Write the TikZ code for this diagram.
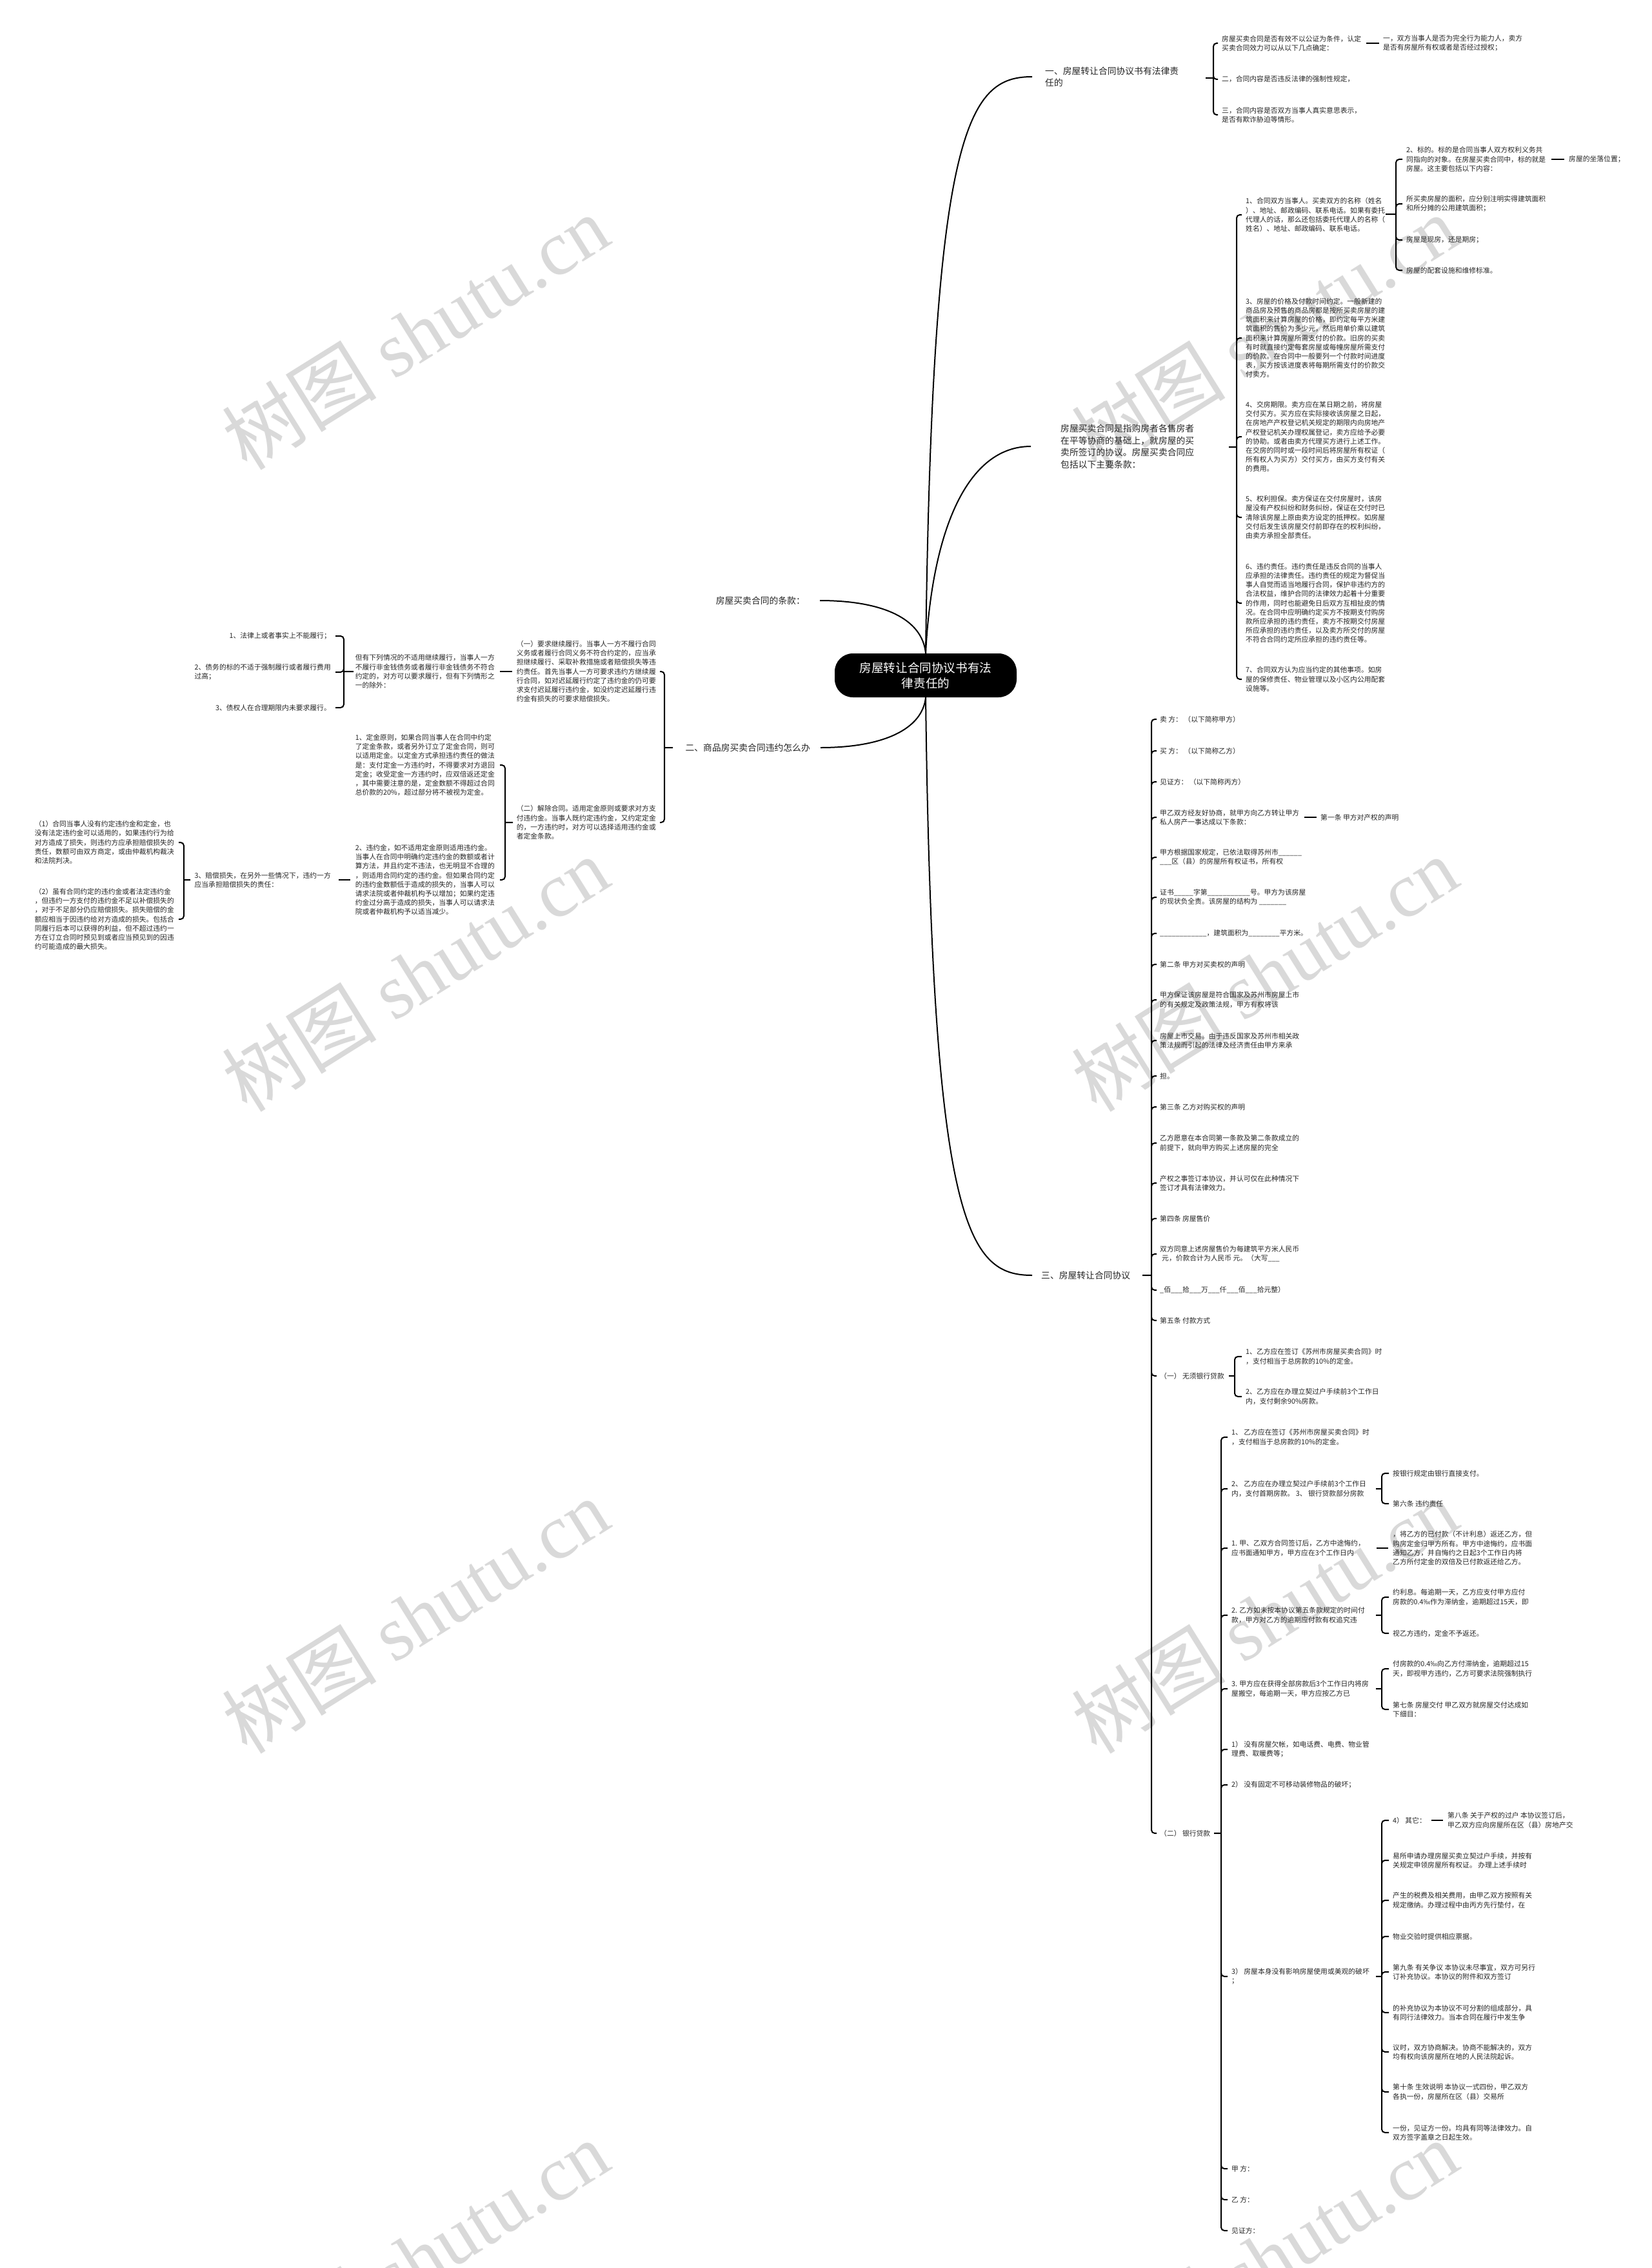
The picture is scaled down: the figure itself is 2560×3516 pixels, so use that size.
\documentclass[tikz,border=0pt]{standalone}
\usepackage{fontspec}
\setmainfont{Noto Sans CJK SC}
\newfontfamily\wmlatin{Liberation Serif}
\tikzset{
        root/.style={rectangle, rounded corners=28pt, fill=black, text=white,
          minimum width=282pt, minimum height=68pt, inner sep=0pt, align=center,
          font=\fontsize{18.6}{24}\selectfont},
        topic/.style={inner sep=0pt, align=left, text=black!85,
          font=\fontsize{13.8}{18.5}\selectfont},
        leaf/.style={inner sep=0pt, align=left, text=black!85,
          font=\fontsize{10.8}{14.2}\selectfont},
        limb/.style={line width=2pt}, % curves out of the root
        brk/.style={line width=2pt, rounded corners=5pt}, % bracket lines
        wmark/.style={text=black!15, rotate=32, inner sep=0pt,
          font=\fontsize{120}{120}\selectfont}
        }

\begin{document}
\begin{tikzpicture}[x=1pt, y=-1pt]
\useasboundingbox (0,0) rectangle (2560,3516);
\fill[white] (0,0) rectangle (2560,3516);

% watermarks
\node[wmark] (wm1) at (644,515) {树图 {\wmlatin shutu.cn}};
\node[wmark] (wm2) at (1960,515) {树图 {\wmlatin shutu.cn}};
\node[wmark] (wm3) at (644,1510) {树图 {\wmlatin shutu.cn}};
\node[wmark] (wm4) at (1960,1510) {树图 {\wmlatin shutu.cn}};
\node[wmark] (wm5) at (644,2505) {树图 {\wmlatin shutu.cn}};
\node[wmark] (wm6) at (1960,2505) {树图 {\wmlatin shutu.cn}};
\node[wmark] (wm7) at (644,3500) {树图 {\wmlatin shutu.cn}};
\node[wmark] (wm8) at (1960,3500) {树图 {\wmlatin shutu.cn}};

% root and main topics
\node[root] (ctr) at (1435,1047) {房屋转让合同协议书有法\\律责任的};
\node[topic, anchor=west] (b1) at (1620,119) {一、房屋转让合同协议书有法律责\\任的};
\node[topic, anchor=west] (b2) at (1644,692) {房屋买卖合同是指购房者各售房者\\在平等协商的基础上，就房屋的买\\卖所签订的协议。房屋买卖合同应\\包括以下主要条款：};
\node[topic, anchor=east] (b3) at (1248,931) {房屋买卖合同的条款：};
\node[topic, anchor=east] (b4) at (1256,1159) {二、商品房买卖合同违约怎么办};
\node[topic, anchor=west] (b5) at (1614,1977) {三、房屋转让合同协议};

\draw[limb] (ctr.north) .. controls (1445,200) and (1500,119) .. ([xshift=-20pt]b1.west);
\draw[limb] (ctr.north) .. controls (1445,820) and (1500,692) .. ([xshift=-46pt]b2.west);
\draw[limb] (ctr.north) .. controls (1430,960) and (1370,931) .. ([xshift=23pt]b3.east);
\draw[limb] (ctr.south) .. controls (1430,1130) and (1370,1159) .. ([xshift=16pt]b4.east);
\draw[limb] (ctr.south) .. controls (1445,1900) and (1500,1977) .. ([xshift=-14pt]b5.west);

% branch one
\node[leaf, anchor=west] (c1) at (1894,67) {房屋买卖合同是否有效不以公证为条件，认定\\买卖合同效力可以从以下几点确定：};
\node[leaf, anchor=west] (c1x) at (2144,67) {一，双方当事人是否为完全行为能力人，卖方\\是否有房屋所有权或者是否经过授权；};
\node[leaf, anchor=west] (c2) at (1894,123) {二，合同内容是否违反法律的强制性规定，};
\node[leaf, anchor=west] (c3) at (1894,178) {三，合同内容是否双方当事人真实意思表示，\\是否有欺诈胁迫等情形。};
\coordinate (s1) at (1881,121);
\draw[brk] (s1) -- ++(-12,0)
  (s1) |- ([xshift=-6pt]c1.west)
  (s1) |- ([xshift=-6pt]c2.west)
  (s1) |- ([xshift=-6pt]c3.west);
\draw[brk] ([xshift=8pt]c1.east) -- ([xshift=-6pt]c1x.west);

% branch two
\node[leaf, anchor=west] (d1) at (1931,333) {1、合同双方当事人。买卖双方的名称（姓名\\）、地址、邮政编码、联系电话。如果有委托\\代理人的话，那么还包括委托代理人的名称（\\姓名）、地址、邮政编码、联系电话。};
\node[leaf, anchor=west] (d1a) at (2180,247) {2、标的。标的是合同当事人双方权利义务共\\同指向的对象。在房屋买卖合同中，标的就是\\房屋。这主要包括以下内容：};
\node[leaf, anchor=west] (d1ax) at (2432,247) {房屋的坐落位置；};
\node[leaf, anchor=west] (d1b) at (2180,316) {所买卖房屋的面积，应分别注明实得建筑面积\\和所分摊的公用建筑面积；};
\node[leaf, anchor=west] (d1c) at (2180,372) {房屋是现房，还是期房；};
\node[leaf, anchor=west] (d1d) at (2180,419) {房屋的配套设施和维修标准。};
\node[leaf, anchor=west] (d2) at (1931,524) {3、房屋的价格及付款时间约定。一般新建的\\商品房及预售的商品房都是按所买卖房屋的建\\筑面积来计算房屋的价格，即约定每平方米建\\筑面积的售价为多少元，然后用单价乘以建筑\\面积来计算房屋所需支付的价款。旧房的买卖\\有时就直接约定每套房屋或每幢房屋所需支付\\的价款。在合同中一般要列一个付款时间进度\\表，买方按该进度表将每期所需支付的价款交\\付卖方。};
\node[leaf, anchor=west] (d3) at (1931,677) {4、交房期限。卖方应在某日期之前，将房屋\\交付买方。买方应在实际接收该房屋之日起，\\在房地产产权登记机关规定的期限内向房地产\\产权登记机关办理权属登记，卖方应给予必要\\的协助。或者由卖方代理买方进行上述工作。\\在交房的同时或一段时间后将房屋所有权证（\\所有权人为买方）交付买方，由买方支付有关\\的费用。};
\node[leaf, anchor=west] (d4) at (1931,802) {5、权利担保。卖方保证在交付房屋时，该房\\屋没有产权纠纷和财务纠纷，保证在交付时已\\清除该房屋上原由卖方设定的抵押权。如房屋\\交付后发生该房屋交付前即存在的权利纠纷，\\由卖方承担全部责任。};
\node[leaf, anchor=west] (d5) at (1931,935) {6、违约责任。违约责任是违反合同的当事人\\应承担的法律责任。违约责任的规定为督促当\\事人自觉而适当地履行合同，保护非违约方的\\合法权益，维护合同的法律效力起着十分重要\\的作用，同时也能避免日后双方互相扯皮的情\\况。在合同中应明确约定买方不按期支付购房\\款所应承担的违约责任，卖方不按期交付房屋\\所应承担的违约责任，以及卖方所交付的房屋\\不符合合同约定所应承担的违约责任等。};
\node[leaf, anchor=west] (d6) at (1931,1053) {7、合同双方认为应当约定的其他事项。如房\\屋的保修责任、物业管理以及小区内公用配套\\设施等。};
\coordinate (s2) at (1917,693);
\draw[brk] (s2) -- ++(-12,0)
  (s2) |- ([xshift=-6pt]d1.west)
  (s2) |- ([xshift=-6pt]d2.west)
  (s2) |- ([xshift=-6pt]d3.west)
  (s2) |- ([xshift=-6pt]d4.west)
  (s2) |- ([xshift=-6pt]d5.west)
  (s2) |- ([xshift=-6pt]d6.west);
\coordinate (s21) at (2164,332);
\draw[brk] (s21) -- ++(-16,0)
  (s21) |- ([xshift=-6pt]d1a.west)
  (s21) |- ([xshift=-6pt]d1b.west)
  (s21) |- ([xshift=-6pt]d1c.west)
  (s21) |- ([xshift=-6pt]d1d.west);
\draw[brk] ([xshift=9pt]d1a.east) -- ([xshift=-7pt]d1ax.west);

% branch four
\node[leaf, anchor=east] (e1) at (1017,1041) {（一）要求继续履行。当事人一方不履行合同\\义务或者履行合同义务不符合约定的，应当承\\担继续履行、采取补救措施或者赔偿损失等违\\约责任。首先当事人一方可要求违约方继续履\\行合同，如对迟延履行约定了违约金的仍可要\\求支付迟延履行违约金，如没约定迟延履行违\\约金有损失的可要求赔偿损失。};
\node[leaf, anchor=east] (e2) at (1017,1275) {（二）解除合同。适用定金原则或要求对方支\\付违约金。当事人既约定违约金，又约定定金\\的，一方违约时，对方可以选择适用违约金或\\者定金条款。};
\node[leaf, anchor=east] (e1a) at (767,1041) {但有下列情况的不适用继续履行，当事人一方\\不履行非金钱债务或者履行非金钱债务不符合\\约定的，对方可以要求履行，但有下列情形之\\一的除外：};
\node[leaf, anchor=east] (f1) at (513,986) {1、法律上或者事实上不能履行；};
\node[leaf, anchor=east] (f2) at (513,1042) {2、债务的标的不适于强制履行或者履行费用\\过高；};
\node[leaf, anchor=east] (f3) at (513,1097) {3、债权人在合理期限内未要求履行。};
\node[leaf, anchor=east] (g1) at (767,1186) {1、定金原则，如果合同当事人在合同中约定\\了定金条款，或者另外订立了定金合同，则可\\以适用定金。以定金方式承担违约责任的做法\\是：支付定金一方违约时，不得要求对方退回\\定金；收受定金一方违约时，应双倍返还定金\\，其中需要注意的是，定金数额不得超过合同\\总价款的20\%，超过部分将不被视为定金。};
\node[leaf, anchor=east] (g2) at (767,1364) {2、违约金，如不适用定金原则适用违约金。\\当事人在合同中明确约定违约金的数额或者计\\算方法，并且约定不违法，也无明显不合理的\\，则适用合同约定的违约金。但如果合同约定\\的违约金数额低于造成的损失的，当事人可以\\请求法院或者仲裁机构予以增加；如果约定违\\约金过分高于造成的损失，当事人可以请求法\\院或者仲裁机构予以适当减少。};
\node[leaf, anchor=east] (g2a) at (513,1364) {3、赔偿损失，在另外一些情况下，违约一方\\应当承担赔偿损失的责任：};
\node[leaf, anchor=east] (h1) at (270,1306) {（1）合同当事人没有约定违约金和定金，也\\没有法定违约金可以适用的，如果违约行为给\\对方造成了损失，则违约方应承担赔偿损失的\\责任，数额可由双方商定，或由仲裁机构裁决\\和法院判决。};
\node[leaf, anchor=east] (h2) at (270,1425) {（2）虽有合同约定的违约金或者法定违约金\\，但违约一方支付的违约金不足以补偿损失的\\，对于不足部分仍应赔偿损失。损失赔偿的金\\额应相当于因违约给对方造成的损失。包括合\\同履行后本可以获得的利益，但不超过违约一\\方在订立合同时预见到或者应当预见到的因违\\约可能造成的最大损失。};
\coordinate (s4) at (1030,1159);
\draw[brk] (s4) -- ++(13,0)
  (s4) |- ([xshift=6pt]e1.east)
  (s4) |- ([xshift=6pt]e2.east);
\draw[brk] ([xshift=-7pt]e1.west) -- ([xshift=8pt]e1a.east);
\coordinate (s41) at (533,1041);
\draw[brk] (s41) -- ++(15,0)
  (s41) |- ([xshift=7pt]f1.east)
  (s41) |- ([xshift=7pt]f2.east)
  (s41) |- ([xshift=7pt]f3.east);
\coordinate (s42) at (783,1275);
\draw[brk] (s42) -- ++(12,0)
  (s42) |- ([xshift=8pt]g1.east)
  (s42) |- ([xshift=8pt]g2.east);
\draw[brk] ([xshift=-8pt]g2.west) -- ([xshift=12pt]g2a.east);
\coordinate (s43) at (285,1364);
\draw[brk] (s43) -- ++(10,0)
  (s43) |- ([xshift=7pt]h1.east)
  (s43) |- ([xshift=7pt]h2.east);

% branch five
\node[leaf, anchor=west] (k1) at (1798,1115) {卖 方：\ （以下简称甲方）};
\node[leaf, anchor=west] (k2) at (1798,1164) {买 方：\ （以下简称乙方）};
\node[leaf, anchor=west] (k3) at (1798,1212) {见证方：\ （以下简称丙方）};
\node[leaf, anchor=west] (k4) at (1798,1267) {甲乙双方经友好协商，就甲方向乙方转让甲方\\私人房产一事达成以下条款：};
\node[leaf, anchor=west] (k4x) at (2047,1267) {第一条 甲方对产权的声明};
\node[leaf, anchor=west] (k5) at (1798,1329) {甲方根据国家规定，已依法取得苏州市\_\_\_\_\_\_\\\_\_\_区（县）的房屋所有权证书，所有权};
\node[leaf, anchor=west] (k6) at (1798,1391) {证书\_\_\_\_\_字第\_\_\_\_\_\_\_\_\_\_\_号。甲方为该房屋\\的现状负全责。该房屋的结构为 \_\_\_\_\_\_\_};
\node[leaf, anchor=west] (k7) at (1798,1447) {\_\_\_\_\_\_\_\_\_\_\_\_，建筑面积为\_\_\_\_\_\_\_\_平方米。};
\node[leaf, anchor=west] (k8) at (1798,1495) {第二条 甲方对买卖权的声明};
\node[leaf, anchor=west] (k9) at (1798,1550) {甲方保证该房屋是符合国家及苏州市房屋上市\\的有关规定及政策法规，甲方有权将该};
\node[leaf, anchor=west] (k10) at (1798,1613) {房屋上市交易。由于违反国家及苏州市相关政\\策法规而引起的法律及经济责任由甲方来承};
\node[leaf, anchor=west] (k11) at (1798,1668) {担。};
\node[leaf, anchor=west] (k12) at (1798,1716) {第三条 乙方对购买权的声明};
\node[leaf, anchor=west] (k13) at (1798,1772) {乙方愿意在本合同第一条款及第二条款成立的\\前提下，就向甲方购买上述房屋的完全};
\node[leaf, anchor=west] (k14) at (1798,1834) {产权之事签订本协议，并认可仅在此种情况下\\签订才具有法律效力。};
\node[leaf, anchor=west] (k15) at (1798,1889) {第四条 房屋售价};
\node[leaf, anchor=west] (k16) at (1798,1944) {双方同意上述房屋售价为每建筑平方米人民币\\\hspace{3pt}元，价款合计为人民币 元。（大写\_\_\_};
\node[leaf, anchor=west] (k17) at (1798,2000) {\_佰\_\_\_拾\_\_\_万\_\_\_仟\_\_\_佰\_\_\_拾元整）};
\node[leaf, anchor=west] (k18) at (1798,2047) {第五条 付款方式};
\node[leaf, anchor=west] (k19) at (1798,2133) {（一） 无须银行贷款};
\node[leaf, anchor=west] (k19a) at (1931,2103) {1、乙方应在签订《苏州市房屋买卖合同》时\\，支付相当于总房款的10\%的定金。};
\node[leaf, anchor=west] (k19b) at (1931,2165) {2、乙方应在办理立契过户手续前3个工作日\\内，支付剩余90\%房款。};
\node[leaf, anchor=west] (k20) at (1798,2842) {（二） 银行贷款};
\coordinate (s5) at (1785,1977);
\draw[brk] (s5) -- ++(-14,0)
  (s5) |- ([xshift=-5pt]k1.west)
  (s5) |- ([xshift=-5pt]k2.west)
  (s5) |- ([xshift=-5pt]k3.west)
  (s5) |- ([xshift=-5pt]k4.west)
  (s5) |- ([xshift=-5pt]k5.west)
  (s5) |- ([xshift=-5pt]k6.west)
  (s5) |- ([xshift=-5pt]k7.west)
  (s5) |- ([xshift=-5pt]k8.west)
  (s5) |- ([xshift=-5pt]k9.west)
  (s5) |- ([xshift=-5pt]k10.west)
  (s5) |- ([xshift=-5pt]k11.west)
  (s5) |- ([xshift=-5pt]k12.west)
  (s5) |- ([xshift=-5pt]k13.west)
  (s5) |- ([xshift=-5pt]k14.west)
  (s5) |- ([xshift=-5pt]k15.west)
  (s5) |- ([xshift=-5pt]k16.west)
  (s5) |- ([xshift=-5pt]k17.west)
  (s5) |- ([xshift=-5pt]k18.west)
  (s5) |- ([xshift=-5pt]k19.west)
  (s5) |- ([xshift=-5pt]k20.west);
\draw[brk] ([xshift=8pt]k4.east) -- ([xshift=-6pt]k4x.west);
\coordinate (s51) at (1914,2133);
\draw[brk] (s51) -- ++(-9,0)
  (s51) |- ([xshift=-6pt]k19a.west)
  (s51) |- ([xshift=-6pt]k19b.west);

% bank loan part
\node[leaf, anchor=west] (l1) at (1909,2228) {1、 乙方应在签订《苏州市房屋买卖合同》时\\，支付相当于总房款的10\%的定金。};
\node[leaf, anchor=west] (l2) at (1909,2308) {2、 乙方应在办理立契过户手续前3个工作日\\内，支付首期房款。 3、 银行贷款部分房款};
\node[leaf, anchor=west] (l2a) at (2159,2284) {按银行规定由银行直接支付。};
\node[leaf, anchor=west] (l2b) at (2159,2331) {第六条 违约责任};
\node[leaf, anchor=west] (l3) at (1909,2400) {1. 甲、乙双方合同签订后，乙方中途悔约，\\应书面通知甲方，甲方应在3个工作日内};
\node[leaf, anchor=west] (l3a) at (2159,2400) {，将乙方的已付款（不计利息）返还乙方，但\\购房定金归甲方所有。甲方中途悔约，应书面\\通知乙方，并自悔约之日起3个工作日内将\\乙方所付定金的双倍及已付款返还给乙方。};
\node[leaf, anchor=west] (l4) at (1909,2504) {2. 乙方如未按本协议第五条款规定的时间付\\款，甲方对乙方的逾期应付款有权追究违};
\node[leaf, anchor=west] (l4a) at (2159,2476) {约利息。每逾期一天，乙方应支付甲方应付\\房款的0.4‰作为滞纳金，逾期超过15天，即};
\node[leaf, anchor=west] (l4b) at (2159,2532) {视乙方违约，定金不予返还。};
\node[leaf, anchor=west] (l5) at (1909,2618) {3. 甲方应在获得全部房款后3个工作日内将房\\屋搬空，每逾期一天，甲方应按乙方已};
\node[leaf, anchor=west] (l5a) at (2159,2587) {付房款的0.4‰向乙方付滞纳金，逾期超过15\\天，即视甲方违约，乙方可要求法院强制执行};
\node[leaf, anchor=west] (l5b) at (2159,2650) {第七条 房屋交付 甲乙双方就房屋交付达成如\\下细目：};
\node[leaf, anchor=west] (l6) at (1909,2712) {1） 没有房屋欠帐，如电话费、电费、物业管\\理费、取暖费等；};
\node[leaf, anchor=west] (l7) at (1909,2767) {2） 没有固定不可移动装修物品的破坏；};
\node[leaf, anchor=west] (l8) at (1909,3064) {3） 房屋本身没有影响房屋使用或美观的破坏\\；};
\node[leaf, anchor=west] (m1) at (2159,2822) {4） 其它：};
\node[leaf, anchor=west] (m1a) at (2244,2822) {第八条 关于产权的过户 本协议签订后，\\甲乙双方应向房屋所在区（县）房地产交};
\node[leaf, anchor=west] (m2) at (2159,2884) {易所申请办理房屋买卖立契过户手续，并按有\\关规定申领房屋所有权证。 办理上述手续时};
\node[leaf, anchor=west] (m3) at (2159,2946) {产生的税费及相关费用，由甲乙双方按照有关\\规定缴纳。办理过程中由丙方先行垫付，在};
\node[leaf, anchor=west] (m4) at (2159,3002) {物业交验时提供相应票据。};
\node[leaf, anchor=west] (m5) at (2159,3057) {第九条 有关争议 本协议未尽事宜，双方可另行\\订补充协议。本协议的附件和双方签订};
\node[leaf, anchor=west] (m6) at (2159,3120) {的补充协议为本协议不可分割的组成部分，具\\有同行法律效力。当本合同在履行中发生争};
\node[leaf, anchor=west] (m7) at (2159,3181) {议时，双方协商解决。协商不能解决的，双方\\均有权向该房屋所在地的人民法院起诉。};
\node[leaf, anchor=west] (m8) at (2159,3243) {第十条 生效说明 本协议一式四份，甲乙双方\\各执一份，房屋所在区（县）交易所};
\node[leaf, anchor=west] (m9) at (2159,3306) {一份，见证方一份。均具有同等法律效力。自\\双方签字盖章之日起生效。};
\node[leaf, anchor=west] (l9) at (1909,3362) {甲 方：};
\node[leaf, anchor=west] (l10) at (1909,3410) {乙 方：};
\node[leaf, anchor=west] (l11) at (1909,3458) {见证方：};
\coordinate (s52) at (1893,2842);
\draw[brk] (s52) -- ++(-11,0)
  (s52) |- ([xshift=-6pt]l1.west)
  (s52) |- ([xshift=-6pt]l2.west)
  (s52) |- ([xshift=-6pt]l3.west)
  (s52) |- ([xshift=-6pt]l4.west)
  (s52) |- ([xshift=-6pt]l5.west)
  (s52) |- ([xshift=-6pt]l6.west)
  (s52) |- ([xshift=-6pt]l7.west)
  (s52) |- ([xshift=-6pt]l8.west)
  (s52) |- ([xshift=-6pt]l9.west)
  (s52) |- ([xshift=-6pt]l10.west)
  (s52) |- ([xshift=-6pt]l11.west);
\coordinate (s53) at (2142,2308);
\draw[brk] (s53) -- ++(-9,0)
  (s53) |- ([xshift=-6pt]l2a.west)
  (s53) |- ([xshift=-6pt]l2b.west);
\draw[brk] ([xshift=18pt]l3.east) -- ([xshift=-7pt]l3a.west);
\coordinate (s54) at (2142,2504);
\draw[brk] (s54) -- ++(-9,0)
  (s54) |- ([xshift=-6pt]l4a.west)
  (s54) |- ([xshift=-6pt]l4b.west);
\coordinate (s55) at (2142,2618);
\draw[brk] (s55) -- ++(-9,0)
  (s55) |- ([xshift=-6pt]l5a.west)
  (s55) |- ([xshift=-6pt]l5b.west);
\coordinate (s56) at (2142,3064);
\draw[brk] (s56) -- ++(-9,0)
  (s56) |- ([xshift=-6pt]m1.west)
  (s56) |- ([xshift=-6pt]m2.west)
  (s56) |- ([xshift=-6pt]m3.west)
  (s56) |- ([xshift=-6pt]m4.west)
  (s56) |- ([xshift=-6pt]m5.west)
  (s56) |- ([xshift=-6pt]m6.west)
  (s56) |- ([xshift=-6pt]m7.west)
  (s56) |- ([xshift=-6pt]m8.west)
  (s56) |- ([xshift=-6pt]m9.west);
\draw[brk] ([xshift=8pt]m1.east) -- ([xshift=-7pt]m1a.west);
\end{tikzpicture}
\end{document}
